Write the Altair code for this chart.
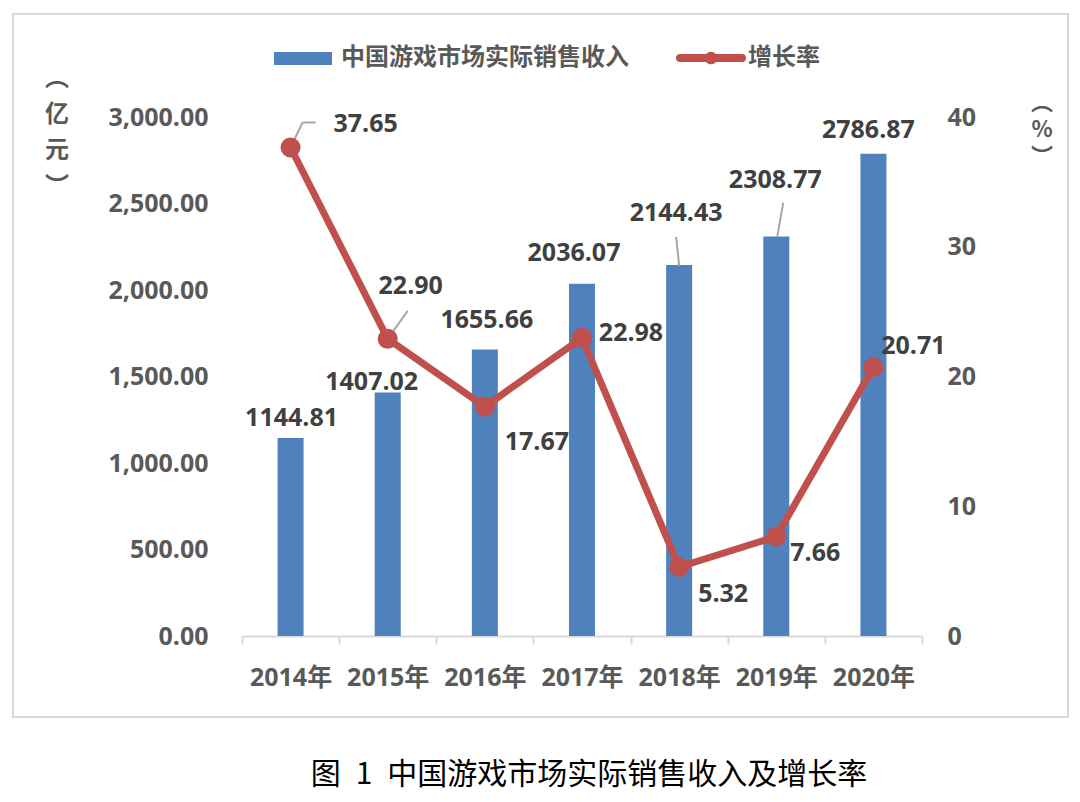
import altair as alt
import pandas as pd

years = ["2014年", "2015年", "2016年", "2017年", "2018年", "2019年", "2020年"]
revenue = [1144.81, 1407.02, 1655.66, 2036.07, 2144.43, 2308.77, 2786.87]
growth = [37.65, 22.90, 17.67, 22.98, 5.32, 7.66, 20.71]

legend_bar = "中国游戏市场实际销售收入"
legend_line = "增长率"
caption = "图\u20021\u2002中国游戏市场实际销售收入及增长率"

df = pd.DataFrame({"year": years, "revenue": revenue, "growth": growth})
one = pd.DataFrame({"k": [0]})

BLUE = "#4F81BD"
RED = "#C0504D"
AXC = "#595959"
LBC = "#404040"
NUMFONT = "Open Sans, Noto Sans CJK SC"
CJK = "Noto Sans CJK SC"

# label offsets (style only): (dx, dy) relative to anchor
bar_off = {"2014年": (1, -20), "2015年": (-16, -11), "2016年": (2, -30), "2017年": (-8, -31),
           "2018年": (-3, -52), "2019年": (-1, -57), "2020年": (-5, -24)}
rate_off = {"2014年": (75, -23), "2015年": (23, -53), "2016年": (52, 35), "2017年": (49, -5),
            "2018年": (44, 27), "2019年": (39, 16), "2020年": (40, -21)}

X = alt.X("year:N", sort=years, title=None,
          scale=alt.Scale(paddingInner=0, paddingOuter=0),
          axis=alt.Axis(labelAngle=0, labelFont=NUMFONT, labelFontSize=25, labelFontWeight="bold",
                        labelColor=AXC, domainColor="#d9d9d9", domainWidth=2, tickColor="#d9d9d9",
                        tickWidth=2, tickSize=8, tickBand="extent", labelPadding=21, grid=False))
X2 = alt.X2("year")

YL = alt.Y("revenue:Q", title=None, scale=alt.Scale(domain=[0, 3000], nice=False),
           axis=alt.Axis(orient="left", values=[0, 500, 1000, 1500, 2000, 2500, 3000], format=",.2f",
                         labelFont=NUMFONT, labelFontSize=25, labelFontWeight="bold", labelColor=AXC,
                         domain=False, ticks=False, grid=False, labelPadding=34))
YR = alt.Y("growth:Q", title=None, scale=alt.Scale(domain=[0, 40], nice=False),
           axis=alt.Axis(orient="right", values=[0, 10, 20, 30, 40], format="d",
                         labelFont=NUMFONT, labelFontSize=25, labelFontWeight="bold", labelColor=AXC,
                         domain=False, ticks=False, grid=False, labelPadding=25))

base = alt.Chart(df)

bars = base.mark_bar(size=26, color=BLUE).encode(x=X, y=YL)
bar_labels = []
for yr, (dx, dy) in bar_off.items():
    bar_labels.append(
        base.transform_filter(alt.datum.year == yr).mark_text(
            font=NUMFONT, fontSize=25, fontWeight="bold", color=LBC, align="center",
            baseline="middle", dx=dx, dy=dy
        ).encode(x=X, y=YL, text=alt.Text("revenue:Q", format=".2f"))
    )

LEAD = "#a6a6a6"
def leader(yr, field, Y, a, b, c, d):
    return base.transform_filter(alt.datum.year == yr).mark_rule(
        color=LEAD, strokeWidth=2, xOffset=a, yOffset=b, x2Offset=c, y2Offset=d
    ).encode(x=X, x2=X2, y=Y, y2=alt.Y2(field))

left = alt.layer(
    bars, *bar_labels,
    leader("2018年", "revenue", YL, -3, -28, 0, 1),
    leader("2019年", "revenue", YL, 7, -34, 1, 0),
)

line = base.mark_line(color=RED, strokeWidth=7).encode(x=X, y=YR)
pts = base.mark_circle(color=RED, size=400, opacity=1).encode(x=X, y=YR)
rate_labels = []
for yr, (dx, dy) in rate_off.items():
    rate_labels.append(
        base.transform_filter(alt.datum.year == yr).mark_text(
            font=NUMFONT, fontSize=25, fontWeight="bold", color=LBC, align="center",
            baseline="middle", dx=dx, dy=dy
        ).encode(x=X, y=YR, text=alt.Text("growth:Q", format=".2f"))
    )

right = alt.layer(
    leader("2014年", "growth", YR, 0, 0, 12, -25),
    leader("2014年", "growth", YR, 12, -25, 25, -25),
    leader("2015年", "growth", YR, 0, 0, 20, -28),
    line, pts, *rate_labels,
)

ob = alt.Chart(one)
border = ob.mark_rect(fillOpacity=0, stroke="#d9d9d9", strokeWidth=2).encode(
    x=alt.value(-229), x2=alt.value(826), y=alt.value(-103), y2=alt.value(600))
leg_rect = ob.mark_rect(color=BLUE).encode(
    x=alt.value(32), x2=alt.value(90), y=alt.value(-65), y2=alt.value(-52))
leg_t1 = ob.mark_text(font=CJK, fontSize=24, fontWeight="bold", color=AXC, align="left",
                      baseline="middle").encode(x=alt.value(99), y=alt.value(-59), text=alt.value(legend_bar))
leg_line = ob.mark_rule(color=RED, strokeWidth=8, strokeCap="round").encode(
    x=alt.value(438), x2=alt.value(500), y=alt.value(-59))
leg_dot = ob.mark_circle(color=RED, size=160, opacity=1).encode(x=alt.value(469), y=alt.value(-59))
leg_t2 = ob.mark_text(font=CJK, fontSize=24, fontWeight="bold", color=AXC, align="left",
                      baseline="middle").encode(x=alt.value(506), y=alt.value(-59), text=alt.value(legend_line))
ltitle = ob.mark_text(font=CJK, fontSize=24, fontWeight="bold", color=AXC, align="center",
                      baseline="middle", lineHeight=36).encode(
    x=alt.value(-185), y=alt.value(-38), text=alt.value(["︵", "亿", "元", "︶"]))
rtitle = ob.mark_text(font=CJK, fontSize=22, fontWeight="bold", color=AXC, align="center",
                      baseline="middle", lineHeight=27).encode(
    x=alt.value(800), y=alt.value(-14), text=alt.value(["︵", "%", "︶"]))
cap = ob.mark_text(font=CJK, fontSize=30, color="#000000", align="center",
                   baseline="middle").encode(x=alt.value(347), y=alt.value(658), text=alt.value(caption))

chart = alt.layer(left, right, border, leg_rect, leg_t1, leg_line, leg_dot, leg_t2,
                  ltitle, rtitle, cap).resolve_scale(y="independent").properties(
    width=680, height=519,
    autosize=alt.AutoSizeParams(type="none"),
    padding={"left": 242, "top": 117, "right": 158, "bottom": 166},
    background="white",
).configure_view(stroke=None)

chart.save("out.html", embed_options={"renderer": "svg", "actions": False})
